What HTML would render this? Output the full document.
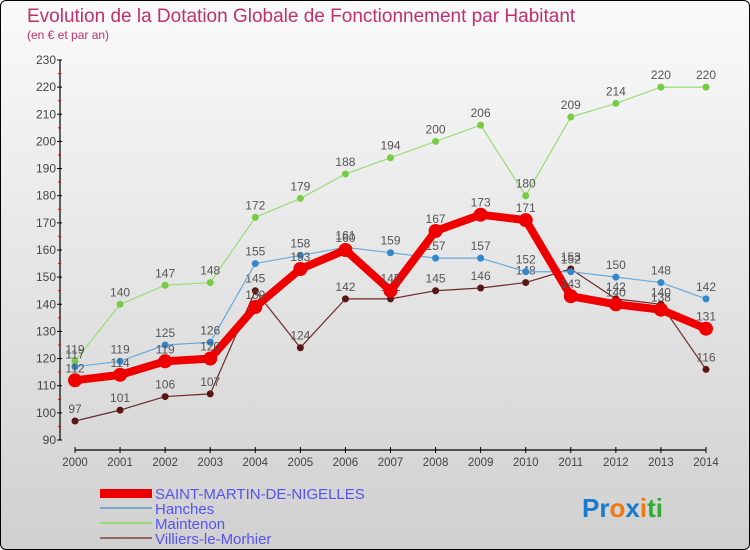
<!DOCTYPE html>
<html><head><meta charset="utf-8"><style>
html,body{margin:0;padding:0}
body{width:750px;height:550px;overflow:hidden;font-family:"Liberation Sans",sans-serif}
#wrap{position:relative;width:748px;height:548px;border:1px solid #000;border-radius:6px;background:linear-gradient(#fafafa,#d0d0d0);overflow:hidden}
</style></head><body>
<div id="wrap">
<svg id="chart" width="750" height="550" style="position:absolute;left:-1px;top:-1px">
<text x="27" y="22" font-size="19" fill="#c0306a">Evolution de la Dotation Globale de Fonctionnement par Habitant</text>
<text x="27" y="39" font-size="12" fill="#c0306a">(en € et par an)</text>
<g id="axes"></g><g id="series"></g>
<g font-size="15" fill="#5555ee">
<rect x="100" y="489" width="52" height="9" fill="#ee0000"/>
<text x="155" y="499">SAINT-MARTIN-DE-NIGELLES</text>
<rect x="100" y="507" width="52" height="2" fill="#7aa8cc"/>
<text x="155" y="514">Hanches</text>
<rect x="100" y="522" width="52" height="2" fill="#99dd77"/>
<text x="155" y="529">Maintenon</text>
<rect x="100" y="537" width="52" height="2" fill="#996666"/>
<text x="155" y="544">Villiers-le-Morhier</text>
</g>
<text x="582" y="517" font-size="26" font-weight="bold"><tspan fill="#1a7acc">Pr</tspan><tspan fill="#ee7711">o</tspan><tspan fill="#1a7acc">x</tspan><tspan fill="#ee7711">i</tspan><tspan fill="#33aa33">ti</tspan></text>
</svg>
</div>
<script>
const years=[2000,2001,2002,2003,2004,2005,2006,2007,2008,2009,2010,2011,2012,2013,2014];
const yTicks=[90,100,110,120,130,140,150,160,170,180,190,200,210,220,230];
const saintMartin=[112,114,119,120,139,153,160,145,167,173,171,143,140,138,131];
const hanches=[117,119,125,126,155,158,161,159,157,157,152,152,150,148,142];
const maintenon=[119,140,147,148,172,179,188,194,200,206,180,209,214,220,220];
const villiers=[97,101,106,107,145,124,142,142,145,146,148,153,142,140,116];
const NS='http://www.w3.org/2000/svg';
const xS=i=>75+i*(706-75)/(years.length-1);
const yS=v=>440-(v-90)*380/140;
function mk(tag,attrs,parent){const e=document.createElementNS(NS,tag);for(const k in attrs)e.setAttribute(k,attrs[k]);parent.appendChild(e);return e;}
const ax=document.getElementById('axes');
const yl=mk('line',{x1:60,y1:yS(230),x2:60,y2:yS(90),stroke:'#000','stroke-width':1.2},ax);


yTicks.forEach(v=>{
  mk('line',{x1:57,x2:62,y1:yS(v),y2:yS(v),stroke:'#000'},ax);
  if(v<230)mk('line',{x1:58,x2:61,y1:yS(v+5),y2:yS(v+5),stroke:'#e00'},ax);
  const t=mk('text',{x:56,y:yS(v)+4,'font-size':12,fill:'#444','text-anchor':'end'},ax);
  t.textContent=v;
  
  
});
const xl=mk('line',{x1:75,y1:450,x2:706,y2:450,stroke:'#000','stroke-width':1.2},ax);


years.forEach((y,i)=>{
  mk('line',{x1:xS(i),x2:xS(i),y1:447,y2:453,stroke:'#000'},ax);
  const t=mk('text',{x:xS(i),y:466,'font-size':11.5,fill:'#444','text-anchor':'middle'},ax);
  t.textContent=y;
  
  
});
const sg=document.getElementById('series');
function draw(vals,name,color,dot,w,r){
  const g=mk('g',{},sg);
  
  
  const p=mk('polyline',{points:vals.map((v,i)=>xS(i)+','+yS(v)).join(' '),fill:'none',stroke:color,'stroke-width':w,'stroke-linejoin':'round'},g);
  
  
  vals.forEach((v,i)=>{
    const c=mk('circle',{cx:xS(i),cy:yS(v),r:r,fill:dot},g);
    
    
    const t=mk('text',{x:xS(i),y:yS(v)-8,'font-size':12,fill:'#555','text-anchor':'middle'},g);
    t.textContent=v;
    
    
  });
}
draw(villiers,'villiers','#6b2a2a','#5a1515',1.2,3.5);
draw(maintenon,'maintenon','#99dd77','#77cc44',1.2,3.5);
draw(hanches,'hanches','#66aadd','#3388cc',1.2,3.5);
draw(saintMartin,'saint-martin','#ee0000','#ee0000',8,7);
</script>
</body></html>
